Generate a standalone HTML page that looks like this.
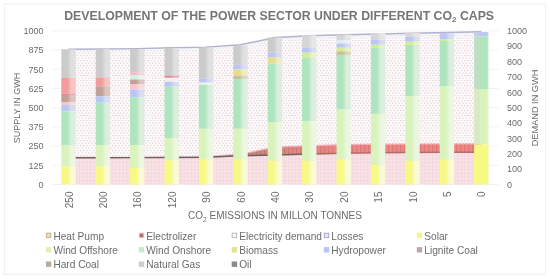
<!DOCTYPE html><html><head><meta charset="utf-8"><style>html,body{margin:0;padding:0;background:#fff;}svg{display:block;will-change:transform;}text{font-family:"Liberation Sans",sans-serif;}</style></head><body>
<svg width="550" height="279" viewBox="0 0 550 279">
<defs>
<linearGradient id="g_grey" x1="0" x2="1" y1="0" y2="0"><stop offset="0" stop-color="#cbcbcb"/><stop offset="0.42" stop-color="#cbcbcb"/><stop offset="0.7" stop-color="#e0e0e0"/><stop offset="1" stop-color="#e0e0e0"/></linearGradient>
<linearGradient id="h_grey" x1="0" x2="1" y1="0" y2="0"><stop offset="0" stop-color="#d0cece"/><stop offset="0.4" stop-color="#d0cece"/><stop offset="0.46" stop-color="#cbcbcb"/><stop offset="0.85" stop-color="#cbcbcb"/><stop offset="1" stop-color="#d6d6d6"/></linearGradient>
<linearGradient id="g_salmon" x1="0" x2="1" y1="0" y2="0"><stop offset="0" stop-color="#f29c9c"/><stop offset="0.42" stop-color="#f29c9c"/><stop offset="0.7" stop-color="#f8c4c4"/><stop offset="1" stop-color="#f8c4c4"/></linearGradient>
<linearGradient id="h_salmon" x1="0" x2="1" y1="0" y2="0"><stop offset="0" stop-color="#e9b0b0"/><stop offset="0.4" stop-color="#e9b0b0"/><stop offset="0.46" stop-color="#f29c9c"/><stop offset="0.85" stop-color="#f29c9c"/><stop offset="1" stop-color="#f5b0b0"/></linearGradient>
<linearGradient id="g_pinkl" x1="0" x2="1" y1="0" y2="0"><stop offset="0" stop-color="#f4c8cc"/><stop offset="0.42" stop-color="#f4c8cc"/><stop offset="0.7" stop-color="#f8dcdc"/><stop offset="1" stop-color="#f8dcdc"/></linearGradient>
<linearGradient id="h_pinkl" x1="0" x2="1" y1="0" y2="0"><stop offset="0" stop-color="#eacccf"/><stop offset="0.4" stop-color="#eacccf"/><stop offset="0.46" stop-color="#f4c8cc"/><stop offset="0.85" stop-color="#f4c8cc"/><stop offset="1" stop-color="#f6d2d4"/></linearGradient>
<linearGradient id="g_brown" x1="0" x2="1" y1="0" y2="0"><stop offset="0" stop-color="#c4a09a"/><stop offset="0.42" stop-color="#c4a09a"/><stop offset="0.7" stop-color="#dcc4c0"/><stop offset="1" stop-color="#dcc4c0"/></linearGradient>
<linearGradient id="h_brown" x1="0" x2="1" y1="0" y2="0"><stop offset="0" stop-color="#cbb2ae"/><stop offset="0.4" stop-color="#cbb2ae"/><stop offset="0.46" stop-color="#c4a09a"/><stop offset="0.85" stop-color="#c4a09a"/><stop offset="1" stop-color="#d0b2ad"/></linearGradient>
<linearGradient id="g_redl" x1="0" x2="1" y1="0" y2="0"><stop offset="0" stop-color="#e4848e"/><stop offset="0.42" stop-color="#e4848e"/><stop offset="0.7" stop-color="#f0a8b0"/><stop offset="1" stop-color="#f0a8b0"/></linearGradient>
<linearGradient id="h_redl" x1="0" x2="1" y1="0" y2="0"><stop offset="0" stop-color="#e0a0a6"/><stop offset="0.4" stop-color="#e0a0a6"/><stop offset="0.46" stop-color="#e4848e"/><stop offset="0.85" stop-color="#e4848e"/><stop offset="1" stop-color="#ea969f"/></linearGradient>
<linearGradient id="g_pinkm" x1="0" x2="1" y1="0" y2="0"><stop offset="0" stop-color="#f4bcc6"/><stop offset="0.42" stop-color="#f4bcc6"/><stop offset="0.7" stop-color="#f8d4da"/><stop offset="1" stop-color="#f8d4da"/></linearGradient>
<linearGradient id="h_pinkm" x1="0" x2="1" y1="0" y2="0"><stop offset="0" stop-color="#eac4cb"/><stop offset="0.4" stop-color="#eac4cb"/><stop offset="0.46" stop-color="#f4bcc6"/><stop offset="0.85" stop-color="#f4bcc6"/><stop offset="1" stop-color="#f6c8d0"/></linearGradient>
<linearGradient id="g_mintl" x1="0" x2="1" y1="0" y2="0"><stop offset="0" stop-color="#d4f0e4"/><stop offset="0.42" stop-color="#d4f0e4"/><stop offset="0.7" stop-color="#e8f4ee"/><stop offset="1" stop-color="#e8f4ee"/></linearGradient>
<linearGradient id="h_mintl" x1="0" x2="1" y1="0" y2="0"><stop offset="0" stop-color="#d5e6de"/><stop offset="0.4" stop-color="#d5e6de"/><stop offset="0.46" stop-color="#d4f0e4"/><stop offset="0.85" stop-color="#d4f0e4"/><stop offset="1" stop-color="#def2e9"/></linearGradient>
<linearGradient id="g_blue" x1="0" x2="1" y1="0" y2="0"><stop offset="0" stop-color="#bac6f4"/><stop offset="0.42" stop-color="#bac6f4"/><stop offset="0.7" stop-color="#d8ddf2"/><stop offset="1" stop-color="#d8ddf2"/></linearGradient>
<linearGradient id="h_blue" x1="0" x2="1" y1="0" y2="0"><stop offset="0" stop-color="#c4cbe9"/><stop offset="0.4" stop-color="#c4cbe9"/><stop offset="0.46" stop-color="#bac6f4"/><stop offset="0.85" stop-color="#bac6f4"/><stop offset="1" stop-color="#c9d2f3"/></linearGradient>
<linearGradient id="g_bio" x1="0" x2="1" y1="0" y2="0"><stop offset="0" stop-color="#e6dc8c"/><stop offset="0.42" stop-color="#e6dc8c"/><stop offset="0.7" stop-color="#f0ecc0"/><stop offset="1" stop-color="#f0ecc0"/></linearGradient>
<linearGradient id="h_bio" x1="0" x2="1" y1="0" y2="0"><stop offset="0" stop-color="#e1d9a5"/><stop offset="0.4" stop-color="#e1d9a5"/><stop offset="0.46" stop-color="#e6dc8c"/><stop offset="0.85" stop-color="#e6dc8c"/><stop offset="1" stop-color="#ebe4a6"/></linearGradient>
<linearGradient id="g_tan" x1="0" x2="1" y1="0" y2="0"><stop offset="0" stop-color="#c8c09c"/><stop offset="0.42" stop-color="#c8c09c"/><stop offset="0.7" stop-color="#dcd8c0"/><stop offset="1" stop-color="#dcd8c0"/></linearGradient>
<linearGradient id="h_tan" x1="0" x2="1" y1="0" y2="0"><stop offset="0" stop-color="#cec7b0"/><stop offset="0.4" stop-color="#cec7b0"/><stop offset="0.46" stop-color="#c8c09c"/><stop offset="0.85" stop-color="#c8c09c"/><stop offset="1" stop-color="#d2ccae"/></linearGradient>
<linearGradient id="g_ygl" x1="0" x2="1" y1="0" y2="0"><stop offset="0" stop-color="#d4ec94"/><stop offset="0.42" stop-color="#d4ec94"/><stop offset="0.7" stop-color="#e8f4c8"/><stop offset="1" stop-color="#e8f4c8"/></linearGradient>
<linearGradient id="h_ygl" x1="0" x2="1" y1="0" y2="0"><stop offset="0" stop-color="#d5e4aa"/><stop offset="0.4" stop-color="#d5e4aa"/><stop offset="0.46" stop-color="#d4ec94"/><stop offset="0.85" stop-color="#d4ec94"/><stop offset="1" stop-color="#def0ae"/></linearGradient>
<linearGradient id="g_mint" x1="0" x2="1" y1="0" y2="0"><stop offset="0" stop-color="#aee5be"/><stop offset="0.42" stop-color="#aee5be"/><stop offset="0.7" stop-color="#dcefdf"/><stop offset="1" stop-color="#dcefdf"/></linearGradient>
<linearGradient id="h_mint" x1="0" x2="1" y1="0" y2="0"><stop offset="0" stop-color="#bddfc6"/><stop offset="0.4" stop-color="#bddfc6"/><stop offset="0.46" stop-color="#aee5be"/><stop offset="0.85" stop-color="#aee5be"/><stop offset="1" stop-color="#c5eace"/></linearGradient>
<linearGradient id="g_yg" x1="0" x2="1" y1="0" y2="0"><stop offset="0" stop-color="#d8f4bc"/><stop offset="0.42" stop-color="#d8f4bc"/><stop offset="0.7" stop-color="#ecf6e0"/><stop offset="1" stop-color="#ecf6e0"/></linearGradient>
<linearGradient id="h_yg" x1="0" x2="1" y1="0" y2="0"><stop offset="0" stop-color="#d8e9c4"/><stop offset="0.4" stop-color="#d8e9c4"/><stop offset="0.46" stop-color="#d8f4bc"/><stop offset="0.85" stop-color="#d8f4bc"/><stop offset="1" stop-color="#e2f5ce"/></linearGradient>
<linearGradient id="g_yel" x1="0" x2="1" y1="0" y2="0"><stop offset="0" stop-color="#f8f884"/><stop offset="0.42" stop-color="#f8f884"/><stop offset="0.7" stop-color="#fafad6"/><stop offset="1" stop-color="#fafad6"/></linearGradient>
<linearGradient id="h_yel" x1="0" x2="1" y1="0" y2="0"><stop offset="0" stop-color="#edeba0"/><stop offset="0.4" stop-color="#edeba0"/><stop offset="0.46" stop-color="#f8f884"/><stop offset="0.85" stop-color="#f8f884"/><stop offset="1" stop-color="#f9f9ad"/></linearGradient>
<linearGradient id="g_light" x1="0" x2="1" y1="0" y2="0"><stop offset="0" stop-color="#eef0ee"/><stop offset="0.42" stop-color="#eef0ee"/><stop offset="0.7" stop-color="#f4f4f4"/><stop offset="1" stop-color="#f4f4f4"/></linearGradient>
<linearGradient id="h_light" x1="0" x2="1" y1="0" y2="0"><stop offset="0" stop-color="#e6e6e5"/><stop offset="0.4" stop-color="#e6e6e5"/><stop offset="0.46" stop-color="#eef0ee"/><stop offset="0.85" stop-color="#eef0ee"/><stop offset="1" stop-color="#f1f2f1"/></linearGradient>
<linearGradient id="g_greyl" x1="0" x2="1" y1="0" y2="0"><stop offset="0" stop-color="#d6d6d6"/><stop offset="0.42" stop-color="#d6d6d6"/><stop offset="0.7" stop-color="#e6e6e6"/><stop offset="1" stop-color="#e6e6e6"/></linearGradient>
<linearGradient id="h_greyl" x1="0" x2="1" y1="0" y2="0"><stop offset="0" stop-color="#d7d5d5"/><stop offset="0.4" stop-color="#d7d5d5"/><stop offset="0.46" stop-color="#d6d6d6"/><stop offset="0.85" stop-color="#d6d6d6"/><stop offset="1" stop-color="#dedede"/></linearGradient>
<linearGradient id="g_lightb" x1="0" x2="1" y1="0" y2="0"><stop offset="0" stop-color="#e0eef4"/><stop offset="0.42" stop-color="#e0eef4"/><stop offset="0.7" stop-color="#eef2f4"/><stop offset="1" stop-color="#eef2f4"/></linearGradient>
<linearGradient id="h_lightb" x1="0" x2="1" y1="0" y2="0"><stop offset="0" stop-color="#dde5e9"/><stop offset="0.4" stop-color="#dde5e9"/><stop offset="0.46" stop-color="#e0eef4"/><stop offset="0.85" stop-color="#e0eef4"/><stop offset="1" stop-color="#e7f0f4"/></linearGradient>
<pattern id="p_dem" width="3.2" height="5" patternUnits="userSpaceOnUse"><rect width="3.2" height="5" fill="#fcfafa"/><rect x="0" y="0" width="1.1" height="1.1" fill="#e3c8d0"/><rect x="1.6" y="2.5" width="1.1" height="1.1" fill="#e3c8d0"/></pattern>
<pattern id="p_hp" width="3.6" height="3.6" patternUnits="userSpaceOnUse"><rect width="3.6" height="3.6" fill="#fae4e7"/><rect x="0" y="0" width="3.6" height="1" fill="#f2d8dd"/><rect x="0" y="0" width="1" height="3.6" fill="#f2d8dd"/></pattern>
<linearGradient id="g_hpl" gradientUnits="userSpaceOnUse" x1="290" x2="340" y1="0" y2="0"><stop offset="0" stop-color="#6e605e"/><stop offset="1" stop-color="#b86a6a"/></linearGradient>
<linearGradient id="g_el" gradientUnits="userSpaceOnUse" x1="250" x2="335" y1="0" y2="0"><stop offset="0" stop-color="#c4887a"/><stop offset="0.5" stop-color="#dc8a7e"/><stop offset="1" stop-color="#ee8884"/></linearGradient>
<pattern id="p_el" width="4" height="4" patternUnits="userSpaceOnUse"><rect x="0" y="0" width="1.3" height="4" fill="#8a3a3a" fill-opacity="0.18"/></pattern>
<pattern id="p_lo" width="3.2" height="5" patternUnits="userSpaceOnUse"><rect width="3.2" height="5" fill="#f8f8fb"/><rect x="0" y="0" width="1.1" height="1.1" fill="#d6d6e4"/><rect x="1.6" y="2.5" width="1.1" height="1.1" fill="#d6d6e4"/></pattern>
</defs>
<rect x="0" y="0" width="550" height="279" fill="#fff"/>
<rect x="4.5" y="4" width="541" height="270.3" fill="#fff" stroke="#f1f1f1" stroke-width="1.2"/>
<line x1="51.3" x2="498.5" y1="184.50" y2="184.50" stroke="#f2f2f2" stroke-width="1"/>
<line x1="51.3" x2="498.5" y1="165.30" y2="165.30" stroke="#f2f2f2" stroke-width="1"/>
<line x1="51.3" x2="498.5" y1="146.10" y2="146.10" stroke="#f2f2f2" stroke-width="1"/>
<line x1="51.3" x2="498.5" y1="126.90" y2="126.90" stroke="#f2f2f2" stroke-width="1"/>
<line x1="51.3" x2="498.5" y1="107.70" y2="107.70" stroke="#f2f2f2" stroke-width="1"/>
<line x1="51.3" x2="498.5" y1="88.50" y2="88.50" stroke="#f2f2f2" stroke-width="1"/>
<line x1="51.3" x2="498.5" y1="69.30" y2="69.30" stroke="#f2f2f2" stroke-width="1"/>
<line x1="51.3" x2="498.5" y1="50.10" y2="50.10" stroke="#f2f2f2" stroke-width="1"/>
<line x1="51.3" x2="498.5" y1="30.90" y2="30.90" stroke="#f2f2f2" stroke-width="1"/>
<polygon points="68.50,157.70 102.90,157.70 137.30,157.60 171.70,157.50 206.10,157.20 240.50,155.80 274.90,155.00 309.30,154.00 343.70,153.20 378.10,152.80 412.50,152.50 446.90,152.30 481.30,152.20 481.30,184.50 446.90,184.50 412.50,184.50 378.10,184.50 343.70,184.50 309.30,184.50 274.90,184.50 240.50,184.50 206.10,184.50 171.70,184.50 137.30,184.50 102.90,184.50 68.50,184.50" fill="url(#p_hp)"/>
<polygon points="68.50,157.40 102.90,157.40 137.30,157.30 171.70,157.20 206.10,156.60 240.50,154.20 274.90,147.20 309.30,145.60 343.70,144.60 378.10,144.20 412.50,144.00 446.90,143.90 481.30,143.80 481.30,152.20 446.90,152.30 412.50,152.50 378.10,152.80 343.70,153.20 309.30,154.00 274.90,155.00 240.50,155.80 206.10,157.20 171.70,157.50 137.30,157.60 102.90,157.70 68.50,157.70" fill="url(#g_el)"/>
<polygon points="68.50,157.40 102.90,157.40 137.30,157.30 171.70,157.20 206.10,156.60 240.50,154.20 274.90,147.20 309.30,145.60 343.70,144.60 378.10,144.20 412.50,144.00 446.90,143.90 481.30,143.80 481.30,152.20 446.90,152.30 412.50,152.50 378.10,152.80 343.70,153.20 309.30,154.00 274.90,155.00 240.50,155.80 206.10,157.20 171.70,157.50 137.30,157.60 102.90,157.70 68.50,157.70" fill="url(#p_el)"/>
<polygon points="68.50,54.30 102.90,54.00 137.30,53.60 171.70,52.80 206.10,52.10 240.50,49.00 274.90,41.70 309.30,40.00 343.70,39.00 378.10,38.20 412.50,37.40 446.90,36.70 481.30,35.90 481.30,143.80 446.90,143.90 412.50,144.00 378.10,144.20 343.70,144.60 309.30,145.60 274.90,147.20 240.50,154.20 206.10,156.60 171.70,157.20 137.30,157.30 102.90,157.40 68.50,157.40" fill="url(#p_dem)"/>
<polygon points="68.50,49.30 102.90,49.00 137.30,48.60 171.70,47.80 206.10,47.10 240.50,44.80 274.90,37.50 309.30,35.80 343.70,34.80 378.10,34.00 412.50,33.20 446.90,32.50 481.30,31.70 481.30,35.90 446.90,36.70 412.50,37.40 378.10,38.20 343.70,39.00 309.30,40.00 274.90,41.70 240.50,49.00 206.10,52.10 171.70,52.80 137.30,53.60 102.90,54.00 68.50,54.30" fill="url(#p_lo)"/>
<polyline points="68.50,157.40 102.90,157.40 137.30,157.30 171.70,157.20 206.10,156.60 240.50,154.20 274.90,147.20 309.30,145.60 343.70,144.60 378.10,144.20 412.50,144.00 446.90,143.90 481.30,143.80" fill="none" stroke="#f2b0c2" stroke-width="1.2"/>
<polyline points="68.50,157.70 102.90,157.70 137.30,157.60 171.70,157.50 206.10,157.20 240.50,155.80 274.90,155.00 309.30,154.00 343.70,153.20 378.10,152.80 412.50,152.50 446.90,152.30 481.30,152.20" fill="none" stroke="url(#g_hpl)" stroke-width="1.4"/>
<polyline points="68.50,49.30 102.90,49.00 137.30,48.60 171.70,47.80 206.10,47.10 240.50,44.80 274.90,37.50 309.30,35.80 343.70,34.80 378.10,34.00 412.50,33.20 446.90,32.50 481.30,31.70" fill="none" stroke="#b4b2cc" stroke-width="1.4"/>
<rect x="61.30" y="49.30" width="14.4" height="28.70" fill="url(#g_grey)"/>
<rect x="61.30" y="78.00" width="14.4" height="15.50" fill="url(#g_salmon)"/>
<rect x="61.30" y="93.50" width="14.4" height="1.50" fill="url(#g_redl)"/>
<rect x="61.30" y="95.00" width="14.4" height="7.00" fill="url(#g_brown)"/>
<rect x="61.30" y="102.00" width="14.4" height="3.00" fill="url(#g_pinkl)"/>
<rect x="61.30" y="105.00" width="14.4" height="6.40" fill="url(#g_blue)"/>
<rect x="61.30" y="111.40" width="14.4" height="34.10" fill="url(#g_mint)"/>
<rect x="61.30" y="145.50" width="14.4" height="20.80" fill="url(#g_yg)"/>
<rect x="61.30" y="166.30" width="14.4" height="18.20" fill="url(#g_yel)"/>
<rect x="95.70" y="48.80" width="14.4" height="28.70" fill="url(#g_grey)"/>
<rect x="95.70" y="77.50" width="14.4" height="8.80" fill="url(#g_salmon)"/>
<rect x="95.70" y="86.30" width="14.4" height="10.00" fill="url(#g_brown)"/>
<rect x="95.70" y="96.30" width="14.4" height="6.30" fill="url(#g_blue)"/>
<rect x="95.70" y="102.60" width="14.4" height="42.40" fill="url(#g_mint)"/>
<rect x="95.70" y="145.00" width="14.4" height="21.00" fill="url(#g_yg)"/>
<rect x="95.70" y="166.00" width="14.4" height="18.50" fill="url(#g_yel)"/>
<rect x="130.10" y="49.00" width="14.4" height="23.20" fill="url(#g_grey)"/>
<rect x="130.10" y="72.20" width="14.4" height="2.80" fill="url(#g_pinkm)"/>
<rect x="130.10" y="75.00" width="14.4" height="4.50" fill="url(#g_mintl)"/>
<rect x="130.10" y="79.50" width="14.4" height="4.50" fill="url(#g_brown)"/>
<rect x="130.10" y="84.00" width="14.4" height="5.50" fill="url(#g_pinkl)"/>
<rect x="130.10" y="89.50" width="14.4" height="7.80" fill="url(#g_blue)"/>
<rect x="130.10" y="97.30" width="14.4" height="47.70" fill="url(#g_mint)"/>
<rect x="130.10" y="145.00" width="14.4" height="22.70" fill="url(#g_yg)"/>
<rect x="130.10" y="167.70" width="14.4" height="16.80" fill="url(#g_yel)"/>
<rect x="164.50" y="48.00" width="14.4" height="27.80" fill="url(#g_grey)"/>
<rect x="164.50" y="75.80" width="14.4" height="2.00" fill="url(#g_redl)"/>
<rect x="164.50" y="77.80" width="14.4" height="4.00" fill="url(#g_light)"/>
<rect x="164.50" y="81.80" width="14.4" height="4.90" fill="url(#g_blue)"/>
<rect x="164.50" y="86.70" width="14.4" height="51.30" fill="url(#g_mint)"/>
<rect x="164.50" y="138.00" width="14.4" height="22.30" fill="url(#g_yg)"/>
<rect x="164.50" y="160.30" width="14.4" height="24.20" fill="url(#g_yel)"/>
<rect x="198.90" y="47.60" width="14.4" height="31.10" fill="url(#g_grey)"/>
<rect x="198.90" y="78.70" width="14.4" height="4.00" fill="url(#g_blue)"/>
<rect x="198.90" y="82.70" width="14.4" height="2.00" fill="url(#g_light)"/>
<rect x="198.90" y="84.70" width="14.4" height="44.10" fill="url(#g_mint)"/>
<rect x="198.90" y="128.80" width="14.4" height="30.40" fill="url(#g_yg)"/>
<rect x="198.90" y="159.20" width="14.4" height="25.30" fill="url(#g_yel)"/>
<rect x="233.30" y="45.60" width="14.4" height="19.30" fill="url(#g_grey)"/>
<rect x="233.30" y="64.90" width="14.4" height="4.60" fill="url(#g_blue)"/>
<rect x="233.30" y="69.50" width="14.4" height="6.30" fill="url(#g_bio)"/>
<rect x="233.30" y="75.80" width="14.4" height="3.30" fill="url(#g_tan)"/>
<rect x="233.30" y="79.10" width="14.4" height="49.70" fill="url(#g_mint)"/>
<rect x="233.30" y="128.80" width="14.4" height="30.40" fill="url(#g_yg)"/>
<rect x="233.30" y="159.20" width="14.4" height="25.30" fill="url(#g_yel)"/>
<rect x="267.70" y="37.50" width="14.4" height="15.20" fill="url(#g_grey)"/>
<rect x="267.70" y="52.70" width="14.4" height="4.90" fill="url(#g_blue)"/>
<rect x="267.70" y="57.60" width="14.4" height="5.90" fill="url(#g_bio)"/>
<rect x="267.70" y="63.50" width="14.4" height="58.50" fill="url(#g_mint)"/>
<rect x="267.70" y="122.00" width="14.4" height="38.80" fill="url(#g_yg)"/>
<rect x="267.70" y="160.80" width="14.4" height="23.70" fill="url(#g_yel)"/>
<rect x="302.10" y="35.30" width="14.4" height="12.50" fill="url(#g_greyl)"/>
<rect x="302.10" y="47.80" width="14.4" height="4.90" fill="url(#g_blue)"/>
<rect x="302.10" y="52.70" width="14.4" height="4.90" fill="url(#g_ygl)"/>
<rect x="302.10" y="57.60" width="14.4" height="63.90" fill="url(#g_mint)"/>
<rect x="302.10" y="121.50" width="14.4" height="39.30" fill="url(#g_yg)"/>
<rect x="302.10" y="160.80" width="14.4" height="23.70" fill="url(#g_yel)"/>
<rect x="336.50" y="34.60" width="14.4" height="5.40" fill="url(#g_greyl)"/>
<rect x="336.50" y="40.00" width="14.4" height="3.50" fill="url(#g_lightb)"/>
<rect x="336.50" y="43.50" width="14.4" height="4.20" fill="url(#g_blue)"/>
<rect x="336.50" y="47.70" width="14.4" height="3.60" fill="url(#g_ygl)"/>
<rect x="336.50" y="51.30" width="14.4" height="3.90" fill="url(#g_tan)"/>
<rect x="336.50" y="55.20" width="14.4" height="54.40" fill="url(#g_mint)"/>
<rect x="336.50" y="109.60" width="14.4" height="49.80" fill="url(#g_yg)"/>
<rect x="336.50" y="159.40" width="14.4" height="25.10" fill="url(#g_yel)"/>
<rect x="370.90" y="33.00" width="14.4" height="6.60" fill="url(#g_greyl)"/>
<rect x="370.90" y="39.60" width="14.4" height="5.20" fill="url(#g_blue)"/>
<rect x="370.90" y="44.80" width="14.4" height="2.90" fill="url(#g_ygl)"/>
<rect x="370.90" y="47.70" width="14.4" height="66.20" fill="url(#g_mint)"/>
<rect x="370.90" y="113.90" width="14.4" height="50.90" fill="url(#g_yg)"/>
<rect x="370.90" y="164.80" width="14.4" height="19.70" fill="url(#g_yel)"/>
<rect x="405.30" y="33.00" width="14.4" height="4.00" fill="url(#g_greyl)"/>
<rect x="405.30" y="37.00" width="14.4" height="4.70" fill="url(#g_blue)"/>
<rect x="405.30" y="41.70" width="14.4" height="3.30" fill="url(#g_ygl)"/>
<rect x="405.30" y="45.00" width="14.4" height="51.10" fill="url(#g_mint)"/>
<rect x="405.30" y="96.10" width="14.4" height="64.70" fill="url(#g_yg)"/>
<rect x="405.30" y="160.80" width="14.4" height="23.70" fill="url(#g_yel)"/>
<rect x="439.70" y="33.20" width="14.4" height="6.40" fill="url(#g_blue)"/>
<rect x="439.70" y="39.60" width="14.4" height="1.40" fill="url(#g_ygl)"/>
<rect x="439.70" y="41.00" width="14.4" height="45.50" fill="url(#g_mint)"/>
<rect x="439.70" y="86.50" width="14.4" height="72.90" fill="url(#g_yg)"/>
<rect x="439.70" y="159.40" width="14.4" height="25.10" fill="url(#g_yel)"/>
<rect x="474.10" y="32.10" width="14.4" height="4.40" fill="url(#h_blue)"/>
<rect x="474.10" y="36.50" width="14.4" height="52.50" fill="url(#h_mint)"/>
<rect x="474.10" y="89.00" width="14.4" height="55.60" fill="url(#h_yg)"/>
<rect x="474.10" y="144.60" width="14.4" height="39.90" fill="#f8f884"/>
<text x="43.5" y="187.70" font-size="9" fill="#6c6c6c" text-anchor="end">0</text>
<text x="43.5" y="168.50" font-size="9" fill="#6c6c6c" text-anchor="end">125</text>
<text x="43.5" y="149.30" font-size="9" fill="#6c6c6c" text-anchor="end">250</text>
<text x="43.5" y="130.10" font-size="9" fill="#6c6c6c" text-anchor="end">375</text>
<text x="43.5" y="110.90" font-size="9" fill="#6c6c6c" text-anchor="end">500</text>
<text x="43.5" y="91.70" font-size="9" fill="#6c6c6c" text-anchor="end">625</text>
<text x="43.5" y="72.50" font-size="9" fill="#6c6c6c" text-anchor="end">750</text>
<text x="43.5" y="53.30" font-size="9" fill="#6c6c6c" text-anchor="end">875</text>
<text x="43.5" y="34.10" font-size="9" fill="#6c6c6c" text-anchor="end">1000</text>
<text x="507" y="187.70" font-size="9" fill="#6c6c6c">0</text>
<text x="507" y="172.34" font-size="9" fill="#6c6c6c">100</text>
<text x="507" y="156.98" font-size="9" fill="#6c6c6c">200</text>
<text x="507" y="141.62" font-size="9" fill="#6c6c6c">300</text>
<text x="507" y="126.26" font-size="9" fill="#6c6c6c">400</text>
<text x="507" y="110.90" font-size="9" fill="#6c6c6c">500</text>
<text x="507" y="95.54" font-size="9" fill="#6c6c6c">600</text>
<text x="507" y="80.18" font-size="9" fill="#6c6c6c">700</text>
<text x="507" y="64.82" font-size="9" fill="#6c6c6c">800</text>
<text x="507" y="49.46" font-size="9" fill="#6c6c6c">900</text>
<text x="507" y="34.10" font-size="9" fill="#6c6c6c">1000</text>
<text transform="translate(72.50,191.5) rotate(-90)" font-size="10" fill="#6c6c6c" text-anchor="end">250</text>
<text transform="translate(106.90,191.5) rotate(-90)" font-size="10" fill="#6c6c6c" text-anchor="end">200</text>
<text transform="translate(141.30,191.5) rotate(-90)" font-size="10" fill="#6c6c6c" text-anchor="end">160</text>
<text transform="translate(175.70,191.5) rotate(-90)" font-size="10" fill="#6c6c6c" text-anchor="end">120</text>
<text transform="translate(210.10,191.5) rotate(-90)" font-size="10" fill="#6c6c6c" text-anchor="end">90</text>
<text transform="translate(244.50,191.5) rotate(-90)" font-size="10" fill="#6c6c6c" text-anchor="end">60</text>
<text transform="translate(278.90,191.5) rotate(-90)" font-size="10" fill="#6c6c6c" text-anchor="end">40</text>
<text transform="translate(313.30,191.5) rotate(-90)" font-size="10" fill="#6c6c6c" text-anchor="end">30</text>
<text transform="translate(347.70,191.5) rotate(-90)" font-size="10" fill="#6c6c6c" text-anchor="end">20</text>
<text transform="translate(382.10,191.5) rotate(-90)" font-size="10" fill="#6c6c6c" text-anchor="end">15</text>
<text transform="translate(416.50,191.5) rotate(-90)" font-size="10" fill="#6c6c6c" text-anchor="end">10</text>
<text transform="translate(450.90,191.5) rotate(-90)" font-size="10" fill="#6c6c6c" text-anchor="end">5</text>
<text transform="translate(485.30,191.5) rotate(-90)" font-size="10" fill="#6c6c6c" text-anchor="end">0</text>
<text transform="translate(19.6,108) rotate(-90)" font-size="9" fill="#6c6c6c" text-anchor="middle">SUPPLY IN GWH</text>
<text transform="translate(537.6,108) rotate(-90)" font-size="9.2" fill="#6c6c6c" text-anchor="middle">DEMAND IN GWH</text>
<text x="275" y="219.4" font-size="10" fill="#6c6c6c" text-anchor="middle">CO<tspan font-size="6.5" dy="2.4">2</tspan><tspan dy="-2.4"> EMISSIONS IN MILLON TONNES</tspan></text>
<text x="279.15" y="19.5" font-size="12.3" font-weight="bold" fill="#757575" text-anchor="middle">DEVELOPMENT OF THE POWER SECTOR UNDER DIFFERENT CO<tspan font-size="8" dy="2.5">2</tspan><tspan dy="-2.5"> CAPS</tspan></text>
<rect x="46.4" y="233.2" width="4.4" height="4.4" fill="#e6ddc8" stroke="#c4b48c" stroke-width="1"/>
<text x="53.4" y="239.5" font-size="10.15" fill="#6c6c6c">Heat Pump</text>
<rect x="139.29999999999998" y="233.2" width="4.4" height="4.4" fill="#a87468" stroke="#f0b4c8" stroke-width="1"/>
<text x="146.29999999999998" y="239.5" font-size="10.15" fill="#6c6c6c">Electrolizer</text>
<rect x="232.2" y="233.2" width="4.4" height="4.4" fill="#fbfbfb" stroke="#bdb8b4" stroke-width="1"/>
<text x="239.2" y="239.5" font-size="10.15" fill="#6c6c6c">Electricity demand</text>
<rect x="324.3" y="233.2" width="4.4" height="4.4" fill="#e6e6f2" stroke="#aaa8cc" stroke-width="1"/>
<text x="331.3" y="239.5" font-size="10.15" fill="#6c6c6c">Losses</text>
<rect x="416.8" y="232.7" width="5.4" height="5.4" fill="#f6f290"/>
<text x="424.3" y="239.5" font-size="10.15" fill="#6c6c6c">Solar</text>
<rect x="45.9" y="247.1" width="5.4" height="5.4" fill="#e0f0b8"/>
<text x="53.4" y="253.9" font-size="10.15" fill="#6c6c6c">Wind Offshore</text>
<rect x="138.79999999999998" y="247.1" width="5.4" height="5.4" fill="#c6ecce"/>
<text x="146.29999999999998" y="253.9" font-size="10.15" fill="#6c6c6c">Wind Onshore</text>
<rect x="231.7" y="247.1" width="5.4" height="5.4" fill="#e8e094"/>
<text x="239.2" y="253.9" font-size="10.15" fill="#6c6c6c">Biomass</text>
<rect x="323.8" y="247.1" width="5.4" height="5.4" fill="#b8c6f4"/>
<text x="331.3" y="253.9" font-size="10.15" fill="#6c6c6c">Hydropower</text>
<rect x="416.8" y="247.1" width="5.4" height="5.4" fill="#c0a8a8"/>
<text x="424.3" y="253.9" font-size="10.15" fill="#6c6c6c">Lignite Coal</text>
<rect x="45.9" y="261.5" width="5.4" height="5.4" fill="#b8ac9c"/>
<text x="53.4" y="268.3" font-size="10.15" fill="#6c6c6c">Hard Coal</text>
<rect x="138.79999999999998" y="261.5" width="5.4" height="5.4" fill="#cdcdcd"/>
<text x="146.29999999999998" y="268.3" font-size="10.15" fill="#6c6c6c">Natural Gas</text>
<rect x="231.7" y="261.5" width="5.4" height="5.4" fill="#8a8a8a"/>
<text x="239.2" y="268.3" font-size="10.15" fill="#6c6c6c">Oil</text>
</svg></body></html>
